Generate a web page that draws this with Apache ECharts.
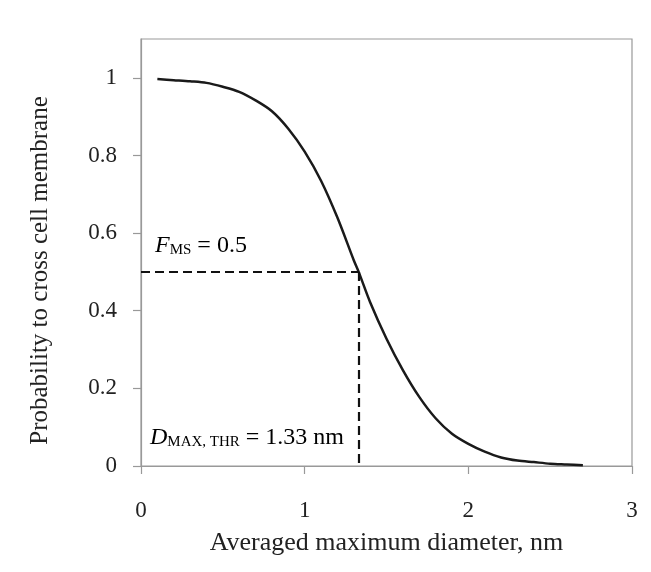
<!DOCTYPE html>
<html>
<head>
<meta charset="utf-8">
<script src="https://cdn.jsdelivr.net/npm/echarts@6/dist/echarts.min.js"></script>
<style>html,body{margin:0;padding:0;background:#fff}#c{width:651px;height:572px}</style>
</head>
<body>
<div id="c"></div>
<script>
const diam = [0.1,0.2,0.3,0.4,0.5,0.6,0.7,0.8,0.9,1.0,1.1,1.2,1.3,1.33,1.4,1.5,1.6,1.7,1.8,1.9,2.0,2.1,2.2,2.3,2.4,2.5,2.6,2.7];
const prob = [0.997,0.994,0.991,0.987,0.977,0.964,0.942,0.914,0.869,0.810,0.735,0.640,0.530,0.500,0.422,0.328,0.247,0.178,0.123,0.083,0.057,0.037,0.022,0.014,0.010,0.006,0.004,0.002];
const yTicks = [0,0.2,0.4,0.6,0.8,1];
const xTicks = [0,1,2,3];
const threshD = 1.33;
const threshF = 0.5;

const chart = echarts.init(document.getElementById('c'), null, {renderer:'canvas'});
const serif = '"Liberation Serif","DejaVu Serif",serif';
const fmt = v => String(Math.round(v*10)/10);
const rich = {
  i:{fontFamily:serif,fontStyle:'italic',fontSize:24,color:'#111',lineHeight:26,verticalAlign:'bottom'},
  s:{fontFamily:serif,fontSize:15,color:'#111',lineHeight:15,verticalAlign:'bottom'},
  n:{fontFamily:serif,fontSize:24,color:'#111',lineHeight:26,verticalAlign:'bottom'}
};
chart.setOption({
  animation:false,
  backgroundColor:'#fff',
  grid:{left:141,right:19,top:39,bottom:106,show:true,borderColor:'#999',borderWidth:1.2,backgroundColor:'transparent'},
  xAxis:{
    type:'value',min:0,max:3,interval:1,
    axisLine:{show:true,lineStyle:{color:'#999',width:1.2}},
    axisTick:{show:true,inside:false,length:8,customValues:xTicks,lineStyle:{color:'#999',width:1.2}},
    splitLine:{show:false},
    axisLabel:{margin:33,fontFamily:serif,fontSize:23,color:'#222',customValues:xTicks,formatter:fmt},
    name:'Averaged maximum diameter, nm',nameLocation:'middle',nameGap:64,
    nameTextStyle:{fontFamily:serif,fontSize:26,color:'#222'}
  },
  yAxis:{
    type:'value',min:0,max:1.1,
    axisLine:{show:true,lineStyle:{color:'#999',width:1.2}},
    axisTick:{show:true,inside:false,length:8,customValues:yTicks,lineStyle:{color:'#999',width:1.2}},
    splitLine:{show:false},
    axisLabel:{margin:24,fontFamily:serif,fontSize:23,color:'#222',customValues:yTicks,formatter:fmt},
    name:'Probability to cross cell membrane',nameLocation:'middle',nameGap:88,
    nameTextStyle:{fontFamily:serif,fontSize:25,color:'#222',padding:[0,36,0,0]}
  },
  series:[
    {
      type:'line',
      data:diam.map((d,i)=>[d,prob[i]]),
      smooth:0.3,
      showSymbol:false,
      lineStyle:{color:'#1a1a1a',width:2.5},
      markLine:{
        silent:true,symbol:'none',
        label:{show:false},
        lineStyle:{color:'#111',width:2.2,type:[9,5]},
        data:[
          [{coord:[0,threshF]},{coord:[threshD,threshF]}],
          [{coord:[threshD,threshF]},{coord:[threshD,0]}]
        ]
      }
    }
  ],
  graphic:[
    {type:'text',left:155,top:234,style:{rich:rich,text:'{i|F}{s|MS}{n| = 0.5}'}},
    {type:'text',left:150,top:426,style:{rich:rich,text:'{i|D}{s|MAX, THR}{n| = 1.33 nm}'}}
  ]
});
</script>
</body>
</html>
